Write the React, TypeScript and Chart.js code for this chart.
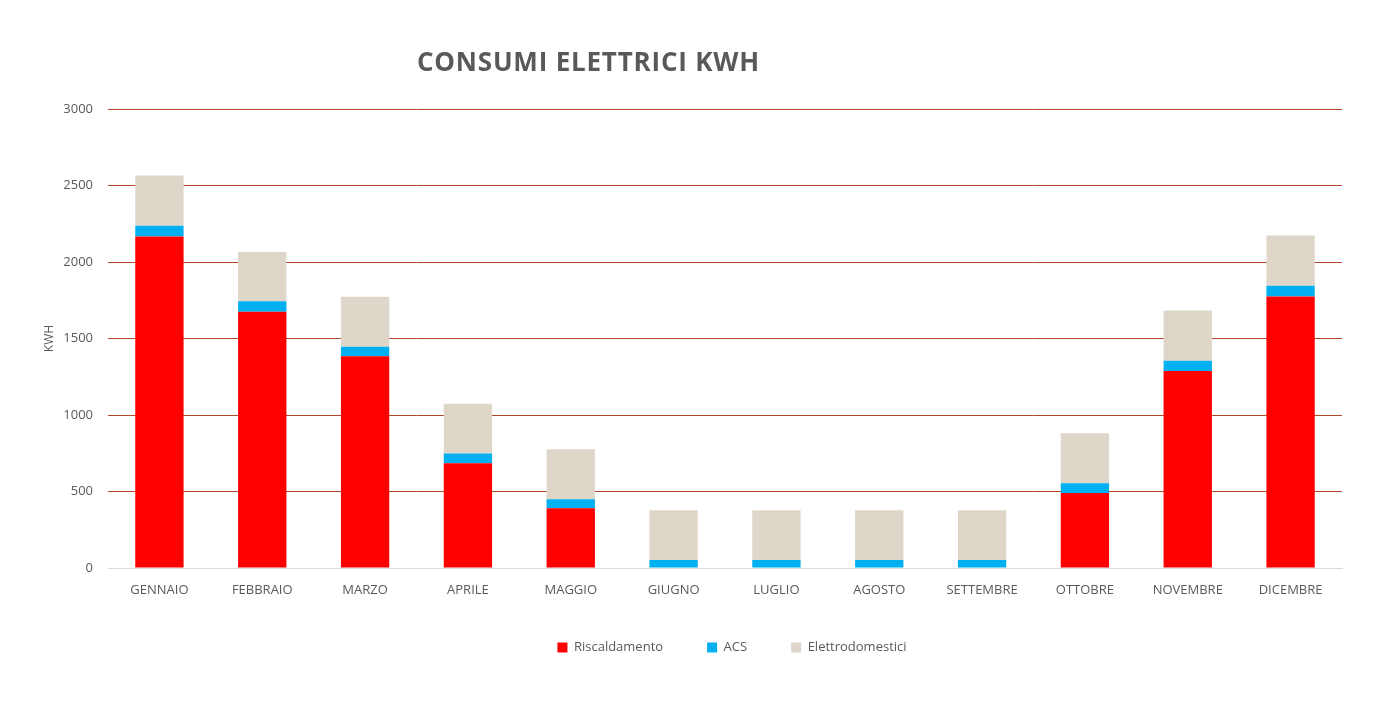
import React, { useEffect, useRef } from 'react';
import { Chart, registerables } from 'chart.js';

Chart.register(...registerables);

const months = [
  'GENNAIO', 'FEBBRAIO', 'MARZO', 'APRILE', 'MAGGIO', 'GIUGNO',
  'LUGLIO', 'AGOSTO', 'SETTEMBRE', 'OTTOBRE', 'NOVEMBRE', 'DICEMBRE',
];
const riscaldamento = [2167, 1675, 1384, 685, 391, 0, 0, 0, 0, 491, 1287, 1774];
const acs = [70, 68, 62, 63, 59, 52, 52, 52, 52, 63, 68, 71];
const elettrodomestici = [328, 322, 327, 326, 326, 326, 326, 326, 326, 327, 328, 328];

const FONT = "'Open Sans', 'Noto Sans', sans-serif";
const TEXT = '#595959';

// the legend in the reference sits a bit to the right of the plot's centre
const legendShift = {
  id: 'legendShift',
  afterLayout(chart: any) {
    if (chart.legend) {
      chart.legend.left += 40;
      chart.legend.right += 40;
    }
  },
};

const App: React.FC = () => {
  const canvasRef = useRef<HTMLCanvasElement>(null);
  const chartRef = useRef<Chart | null>(null);

  useEffect(() => {
    document.body.style.margin = '0';
    if (!canvasRef.current) return;
    if (chartRef.current) chartRef.current.destroy();

    chartRef.current = new Chart(canvasRef.current, {
      type: 'bar',
      data: {
        labels: months,
        datasets: [
          { label: 'Riscaldamento', data: riscaldamento, backgroundColor: '#FF0000' },
          { label: 'ACS', data: acs, backgroundColor: '#00B0F0' },
          { label: 'Elettrodomestici', data: elettrodomestici, backgroundColor: '#DED6C9' },
        ],
      },
      plugins: [legendShift],
      options: {
        animation: false,
        responsive: false,
        maintainAspectRatio: false,
        layout: { padding: { top: 109, right: 45, left: 42, bottom: 39 } },
        datasets: { bar: { categoryPercentage: 1, barPercentage: 0.47 } },
        scales: {
          x: {
            stacked: true,
            grid: { display: false },
            border: { color: '#D9D9D9', width: 1 },
            ticks: { color: TEXT, font: { family: FONT, size: 13 }, padding: 6 },
            afterFit: (scale: any) => { scale.height = 29; },
          },
          y: {
            stacked: true,
            min: 0,
            max: 3000,
            ticks: {
              stepSize: 500,
              color: TEXT,
              font: { family: FONT, size: 13 },
              padding: 15,
              callback: (v: any) => String(v),
            },
            border: { display: false },
            grid: {
              drawTicks: false,
              color: (ctx: any) => (ctx.tick && ctx.tick.value === 0 ? '#D9D9D9' : '#B5452B'),
              lineWidth: 1,
            },
            title: {
              display: true,
              text: 'KWH',
              color: TEXT,
              font: { family: FONT, size: 12 },
              padding: { top: 0, bottom: 0 },
            },
            afterFit: (scale: any) => { scale.width = 66; },
          },
        },
        plugins: {
          legend: {
            position: 'bottom',
            labels: {
              color: TEXT,
              font: { family: FONT, size: 13 },
              boxWidth: 10,
              boxHeight: 10,
              padding: 44,
            },
          },
          tooltip: { enabled: false },
          title: { display: false },
        },
      },
    });

    return () => {
      if (chartRef.current) {
        chartRef.current.destroy();
        chartRef.current = null;
      }
    };
  }, []);

  return (
    <div style={{ position: 'relative', width: 1387, height: 703, background: '#fff' }}>
      <div
        style={{
          position: 'absolute',
          left: 417,
          top: 43,
          fontFamily: FONT,
          fontWeight: 700,
          fontSize: 26,
          letterSpacing: 0.8,
          color: TEXT,
          whiteSpace: 'nowrap',
        }}
      >
        CONSUMI ELETTRICI KWH
      </div>
      <canvas ref={canvasRef} width={1387} height={703} />
    </div>
  );
};

export default App;
